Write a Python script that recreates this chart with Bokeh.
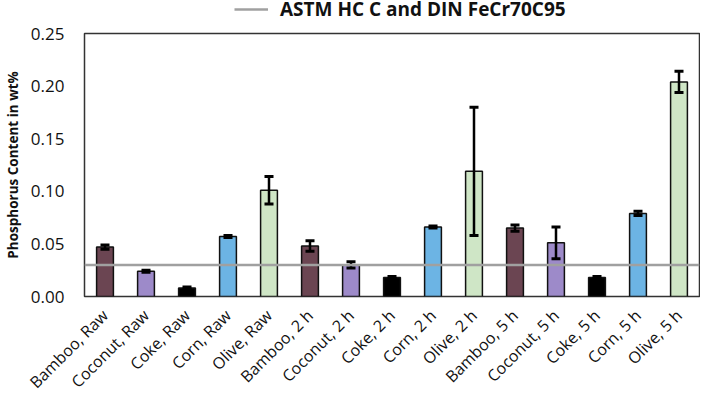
from bokeh.plotting import figure
from bokeh.layouts import column
from bokeh.models import ColumnDataSource, Whisker, Span, Legend, LegendItem, TeeHead, NumeralTickFormatter, FixedTicker
from bokeh.embed import file_html
from bokeh.resources import INLINE
import math

materials = ["Bamboo", "Coconut", "Coke", "Corn", "Olive"]
treatments = ["Raw", "2 h", "5 h"]
categories = [f"{m}, {t}" for t in treatments for m in materials]
values = [0.047, 0.024, 0.008, 0.057, 0.101,
          0.048, 0.030, 0.018, 0.066, 0.119,
          0.065, 0.051, 0.018, 0.079, 0.204]
errors = [0.002, 0.001, 0.001, 0.001, 0.013,
          0.005, 0.003, 0.001, 0.001, 0.061,
          0.003, 0.015, 0.001, 0.002, 0.010]
reference_value = 0.030
reference_label = "ASTM HC C and DIN FeCr70C95"
y_ticks = [0.0, 0.05, 0.10, 0.15, 0.20, 0.25]

palette = {"Bamboo": "#6B4552", "Coconut": "#9D8AC9", "Coke": "#000000",
           "Corn": "#6CB4E4", "Olive": "#CFE6C6"}
colors = [palette[c.split(",")[0]] for c in categories]

src = ColumnDataSource(dict(
    x=categories, top=values, color=colors,
    upper=[v + e for v, e in zip(values, errors)],
    lower=[v - e for v, e in zip(values, errors)],
))

FONT = "Open Sans"
REF_COLOR = "#A0A0A0"

# ---- header figure holding the legend ----
head = figure(width=700, height=23, x_range=(0, 1), y_range=(0, 1),
              output_backend="svg", toolbar_location=None,
              min_border=0, min_border_left=0, min_border_right=0,
              min_border_top=0, min_border_bottom=0)
head.axis.visible = False
head.grid.visible = False
head.outline_line_color = None
legend_line = head.line(x=[-5, -4], y=[-5, -5], line_color=REF_COLOR, line_width=2.5)
legend = Legend(items=[LegendItem(label=reference_label, renderers=[legend_line])],
                orientation="horizontal", location=(150, 1),
                label_text_font=FONT, label_text_font_style="bold",
                label_text_font_size="19px", label_text_color="#111111",
                border_line_color=None, background_fill_alpha=0, glyph_width=34,
                glyph_height=20, label_height=20,
                padding=0, margin=0, label_standoff=12)
head.add_layout(legend, "center")

# ---- main chart ----
p = figure(width=700, frame_height=263, x_range=categories,
           y_range=(0, 0.25), output_backend="svg", toolbar_location=None,
           min_border_right=1, min_border_left=0, min_border_top=10, min_border_bottom=0)
p.x_range.range_padding = 0

p.vbar(x="x", top="top", width=0.41, source=src, fill_color="color",
       line_color="#111111", line_width=1.5)

w = Whisker(base="x", upper="upper", lower="lower", source=src, level="overlay",
            line_color="black", line_width=2.5,
            upper_head=TeeHead(size=9, line_width=3, line_color="black"),
            lower_head=TeeHead(size=9, line_width=3, line_color="black"))
p.add_layout(w)

span = Span(location=reference_value, dimension="width", line_color=REF_COLOR,
            line_width=2.5, level="overlay")
p.add_layout(span)

p.xgrid.visible = False
p.ygrid.visible = False
p.outline_line_color = "#333333"
p.outline_line_width = 1.5

p.yaxis.ticker = FixedTicker(ticks=y_ticks)
p.yaxis.formatter = NumeralTickFormatter(format="0.00")
p.yaxis.axis_label = "Phosphorus Content in wt%"
p.yaxis.axis_label_text_font = FONT
p.yaxis.axis_label_text_font_style = "bold"
p.yaxis.axis_label_text_font_size = "13.5px"
p.yaxis.axis_label_text_color = "#111111"
p.yaxis.axis_label_standoff = 6
p.yaxis.major_label_text_font = FONT
p.yaxis.major_label_text_font_size = "17px"
p.yaxis.major_label_text_color = "#111111"
p.yaxis.major_tick_line_color = None
p.yaxis.minor_tick_line_color = None
p.yaxis.axis_line_color = None
p.yaxis.major_label_standoff = 14

p.xaxis.major_label_orientation = math.pi / 4
p.xaxis.major_label_text_font = FONT
p.xaxis.major_label_text_font_size = "16px"
p.xaxis.major_label_text_color = "#111111"
p.xaxis.major_tick_line_color = None
p.xaxis.axis_line_color = None
p.xaxis.major_label_standoff = 10

layout = column(head, p, spacing=0)
open("out.html", "w").write(file_html(layout, INLINE))
